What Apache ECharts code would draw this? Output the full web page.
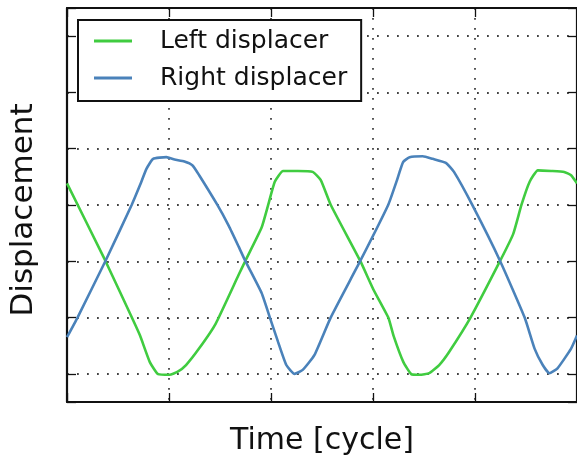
<!DOCTYPE html>
<html>
<head>
<meta charset="utf-8">
<script src="https://cdn.jsdelivr.net/npm/echarts@6/dist/echarts.min.js"></script>
<style>
html,body{margin:0;padding:0;background:#fff;}
#chart{width:577px;height:461px;}
</style>
</head>
<body>
<div id="chart"></div>
<script>
const seriesNames = ['Left displacer', 'Right displacer'];
const leftTime = [0, 0.377, 0.636, 0.716, 0.812, 0.893, 1.006, 1.086, 1.167, 1.296, 1.457, 1.683, 1.748, 1.908, 1.973, 2.037, 2.118, 2.263, 2.408, 2.488, 2.585, 2.875, 3.005, 3.150, 3.201, 3.298, 3.375, 3.456, 3.552, 3.649, 3.746, 3.956, 4.246, 4.374, 4.456, 4.536, 4.616, 4.746, 4.874, 4.942, 5.0];
const leftDisp = [3.384, 2.006, 1.0, 0.680, 0.209, -0.005, -0.017, 0.040, 0.157, 0.454, 0.890, 1.760, 2.006, 2.599, 3.005, 3.414, 3.605, 3.605, 3.588, 3.441, 3.005, 2.006, 1.495, 1.0, 0.680, 0.209, -0.005, -0.017, 0.012, 0.157, 0.389, 1.0, 2.006, 2.482, 3.005, 3.414, 3.616, 3.605, 3.588, 3.529, 3.384];
const rightTime = [0, 0.103, 0.377, 0.635, 0.716, 0.780, 0.844, 0.974, 1.054, 1.151, 1.231, 1.296, 1.473, 1.586, 1.683, 1.748, 1.908, 1.989, 2.070, 2.150, 2.231, 2.311, 2.425, 2.585, 2.875, 3.150, 3.230, 3.295, 3.359, 3.488, 3.585, 3.714, 3.794, 3.972, 4.246, 4.487, 4.584, 4.664, 4.729, 4.809, 4.942, 5.0];
const rightDisp = [0.651, 1.0, 2.006, 3.005, 3.354, 3.646, 3.820, 3.850, 3.808, 3.773, 3.703, 3.529, 3.005, 2.629, 2.260, 2.006, 1.436, 1.0, 0.563, 0.157, 0.0, 0.070, 0.331, 1.0, 2.006, 3.005, 3.414, 3.762, 3.850, 3.867, 3.820, 3.750, 3.588, 3.005, 2.006, 1.0, 0.448, 0.157, 0.012, 0.099, 0.448, 0.680];
const timeRange = [0, 5];
const dispRange = [-0.5, 6.5];

const pairs = (xs, ys) => xs.map((x, i) => [x, ys[i]]);
const font = 'DejaVu Sans';
const frame = { show: true, onZero: false, lineStyle: { color: '#111', width: 2.2 } };
const ticks = { show: true, inside: true, length: 9, lineStyle: { color: '#111', width: 1.3 } };
const grid = {
  show: true,
  lineStyle: { color: '#444', width: 1.8, type: [1.8, 8.2] },
  showMinLine: false,
  showMaxLine: false
};

const chart = echarts.init(document.getElementById('chart'), null, { renderer: 'canvas' });
chart.setOption({
  animation: false,
  backgroundColor: '#fff',
  grid: { left: 66, top: 8, width: 517, height: 399, containLabel: false },
  legend: {
    left: 78, top: 20,
    orient: 'vertical',
    data: seriesNames,
    icon: 'rect',
    itemWidth: 38, itemHeight: 3,
    itemGap: 7,
    padding: [6, 14, 8, 16],
    borderColor: '#111', borderWidth: 2, borderRadius: 0,
    backgroundColor: '#fff',
    textStyle: { fontFamily: font, fontSize: 25, color: '#111', lineHeight: 30, padding: [0, 0, 0, 23] }
  },
  xAxis: [
    {
      type: 'value', min: timeRange[0], max: timeRange[1], interval: 1, position: 'bottom',
      name: 'Time [cycle]', nameLocation: 'middle', nameGap: 24,
      nameTextStyle: { fontFamily: font, fontSize: 30, color: '#111' },
      axisLine: frame, axisTick: ticks, axisLabel: { show: false }, splitLine: grid
    },
    {
      type: 'value', min: timeRange[0], max: timeRange[1], interval: 1, position: 'top',
      axisLine: frame, axisTick: ticks, axisLabel: { show: false }, splitLine: { show: false }
    }
  ],
  yAxis: [
    {
      type: 'value', min: dispRange[0], max: dispRange[1], minInterval: 1, maxInterval: 1, position: 'left',
      name: 'Displacement', nameLocation: 'middle', nameGap: 28,
      nameTextStyle: { fontFamily: font, fontSize: 31, color: '#111', padding: [0, 10, 0, 0] },
      axisLine: frame, axisTick: ticks, axisLabel: { show: false }, splitLine: grid
    },
    {
      type: 'value', min: dispRange[0], max: dispRange[1], minInterval: 1, maxInterval: 1, position: 'right',
      axisLine: frame, axisTick: ticks, axisLabel: { show: false }, splitLine: { show: false }
    }
  ],
  series: [
    {
      name: seriesNames[0], type: 'line', data: pairs(leftTime, leftDisp),
      showSymbol: false, symbol: 'none', smooth: 0.15, clip: true,
      lineStyle: { color: '#40cc40', width: 2.6 }, itemStyle: { color: '#40cc40' }
    },
    {
      name: seriesNames[1], type: 'line', data: pairs(rightTime, rightDisp),
      showSymbol: false, symbol: 'none', smooth: 0.15, clip: true,
      lineStyle: { color: '#4a82ba', width: 2.6 }, itemStyle: { color: '#4a82ba' }
    }
  ]
});
</script>
</body>
</html>
